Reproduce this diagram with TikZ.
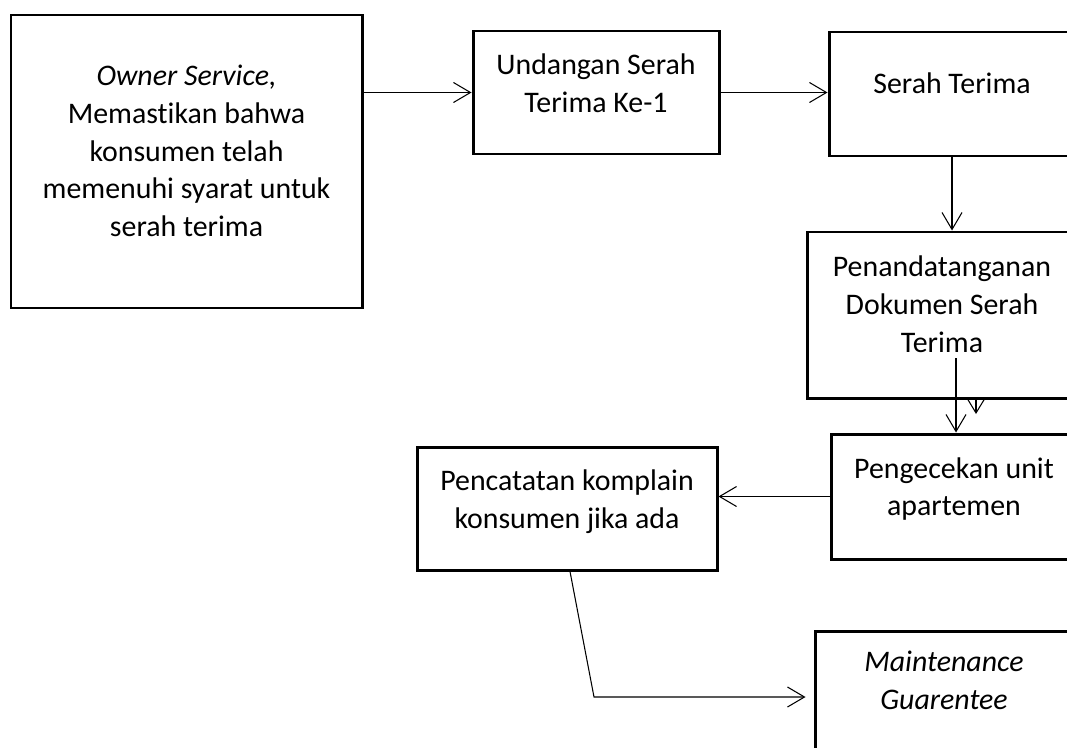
\documentclass[tikz,border=0pt]{standalone}
\usepackage{fontspec}
\setmainfont{Carlito}[Ligatures=NoCommon]
\usetikzlibrary{arrows.meta,fit}

\tikzset{
  box/.style={draw, line width=1.7pt, inner sep=0pt},
  txt/.style={align=center, inner sep=0pt, font=\fontsize{17}{21.5}\selectfont},
  link/.style={line width=0.6pt, -{Straight Barb[length=3.4mm,width=4mm]}},
  stub/.style={line width=0.6pt, -{Straight Barb[length=2.8mm,width=3.4mm]}}
}

\begin{document}
\begin{tikzpicture}[x=0.02cm,y=-0.02cm]
\useasboundingbox (0,0) rectangle (1067,747);
\clip (0,0) rectangle (1067,747);
\fill[white] (0,0) rectangle (1067,747);

\node[box, fit={(11,15) (362,308)}] (owner) {};
\node[box, fit={(473,31) (719,154)}] (invite) {};
\node[box, fit={(829,32) (1075,156)}] (handover) {};
\node[box, fit={(807,232) (1077,398)}] (signing) {};
\node[box, fit={(831,434) (1077,559)}] (check) {};
\node[box, fit={(417,447) (717,570)}] (complaint) {};
\node[box, fit={(815,631) (1073,800)}] (maint) {};

\node[txt] (ownertxt) at (186.5,151) {\textit{Owner Service,}\\Memastikan bahwa\\konsumen telah\\memenuhi syarat untuk\\serah terima};
\node[txt] (invitetxt) at (596,83) {Undangan Serah\\Terima Ke-1};
\node[txt] (handovertxt) at (952,83) {Serah Terima};
\node[txt] (signingtxt) at (942,304.5) {Penandatanganan\\Dokumen Serah\\Terima};
\node[txt] (checktxt) at (954,489) {Pengecekan unit\\apartemen};
\node[txt] (complainttxt) at (567,502) {Pencatatan komplain\\konsumen jika ada};
\node[txt, font=\fontsize{17}{21.5}\selectfont\itshape] (mainttxt) at (944,680) {Maintenance\\Guarentee};

\coordinate (signout) at (956,358);
\coordinate (stray) at (976,399);
\coordinate (straytip) at (976,414);
\coordinate (bend) at (594,697);

\draw[link] (owner.east |- invite.west) -- (invite.west);
\draw[link] (invite.east) -- (invite.east -| handover.west);
\draw[link] (handover.south) -- (handover.south |- signing.north);
\draw[link] (signout) -- (signout |- check.north);
\draw[stub] (stray) -- (straytip);
\draw[link] (check.west) -- (check.west -| complaint.east);
\draw[link] (complaint.south -| 570,0) -- (bend) -- ([xshift=-0.16cm]bend -| maint.west);
\end{tikzpicture}
\end{document}
